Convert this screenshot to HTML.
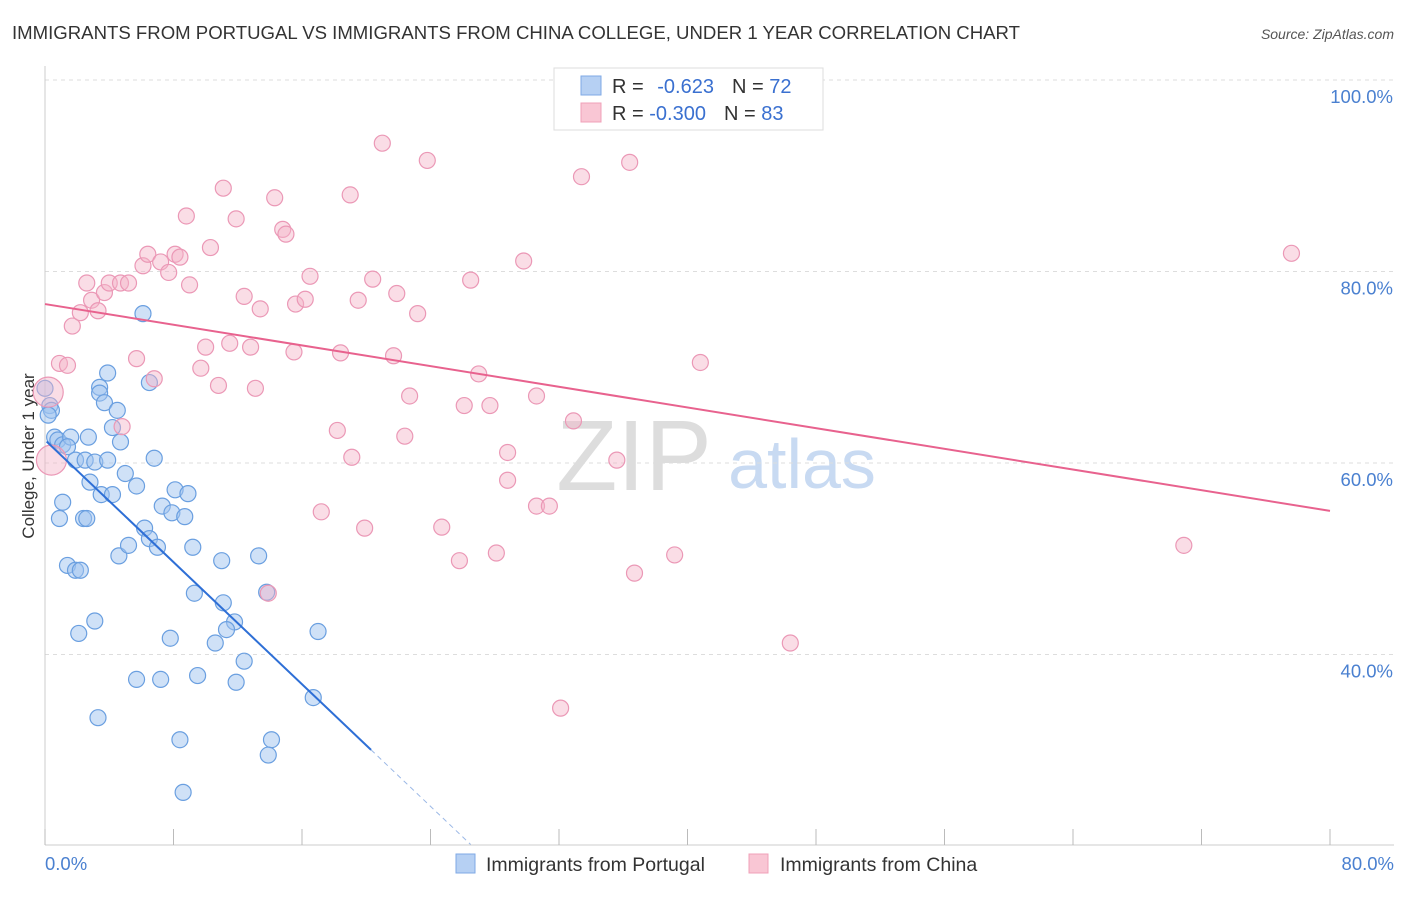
<!DOCTYPE html>
<html><head><meta charset="utf-8"><style>
body{margin:0;background:#fff;font-family:"Liberation Sans",sans-serif;}
svg text{font-family:"Liberation Sans",sans-serif;}
</style></head><body>
<svg id="chart" width="1406" height="892">
<text x="12" y="39" font-size="18" fill="#333" textLength="1008" lengthAdjust="spacingAndGlyphs">IMMIGRANTS FROM PORTUGAL VS IMMIGRANTS FROM CHINA COLLEGE, UNDER 1 YEAR CORRELATION CHART</text>
<text x="1394" y="39" font-size="14" font-style="italic" fill="#555" text-anchor="end">Source: ZipAtlas.com</text>
<text x="634" y="490" font-size="100" font-family="Liberation Serif" fill="#ddd" text-anchor="middle">ZIP</text>
<text x="802" y="488" font-size="70" fill="#c8daf2" text-anchor="middle">atlas</text>
<text transform="translate(34,456) rotate(-90)" font-size="17" fill="#333" text-anchor="middle">College, Under 1 year</text>
<g id="grid"></g><g id="pts"></g><g id="lines"></g>
<g>
<rect x="554" y="68" width="269" height="62" fill="#fff" stroke="#ddd"/>
<rect x="581" y="76" width="20" height="19" fill="#b6d0f3" stroke="#7fa9e6"/>
<rect x="581" y="103" width="20" height="19" fill="#f9c6d4" stroke="#f0a0b8"/>
<text x="612" y="93" font-size="20" fill="#333">R = <tspan fill="#3a70d0" dx="8">-0.623</tspan><tspan fill="#333" dx="18">N = </tspan><tspan fill="#3a70d0">72</tspan></text>
<text x="612" y="120" font-size="20" fill="#333">R = <tspan fill="#3a70d0">-0.300</tspan><tspan fill="#333" dx="18">N = </tspan><tspan fill="#3a70d0">83</tspan></text>
</g>
<g>
<rect x="456" y="854" width="19" height="19" fill="#b6d0f3" stroke="#7fa9e6"/>
<text x="486" y="871" font-size="19.5" fill="#333">Immigrants from Portugal</text>
<rect x="749" y="854" width="19" height="19" fill="#f9c6d4" stroke="#f0a0b8"/>
<text x="780" y="871" font-size="19.5" fill="#333">Immigrants from China</text>
</g>
</svg>
<script>
const yTicks=[100,80,60,40];
const yTickLabels=["100.0%","80.0%","60.0%","40.0%"];
const xTicks=[0,8,16,24,32,40,48,56,64,72,80];
const blueX=[0.0,0.3,0.4,0.2,0.6,0.8,1.1,1.6,2.7,1.4,1.9,2.5,3.1,3.9,3.4,3.9,3.4,3.7,4.5,4.2,4.7,6.5,6.1,2.8,3.5,4.2,5.0,5.7,6.8,1.1,0.9,2.4,2.6,1.4,1.9,2.2,2.1,3.1,3.3,4.6,5.2,6.2,6.5,7.0,7.3,8.1,8.9,7.9,8.7,9.2,11.0,9.3,11.1,11.8,11.3,10.6,7.8,12.4,13.3,13.8,17.0,16.7,5.7,7.2,9.5,11.9,8.4,14.1,13.9,8.6];
const blueY=[67.8,66.0,65.5,65.0,62.7,62.4,61.9,62.7,62.7,61.7,60.3,60.3,60.1,60.3,67.9,69.4,67.3,66.3,65.5,63.7,62.2,68.4,75.6,58.0,56.7,56.7,58.9,57.6,60.5,55.9,54.2,54.2,54.2,49.3,48.8,48.8,42.2,43.5,33.4,50.3,51.4,53.2,52.1,51.2,55.5,57.2,56.8,54.8,54.4,51.2,49.8,46.4,45.4,43.4,42.6,41.2,41.7,39.3,50.3,46.5,42.4,35.5,37.4,37.4,37.8,37.1,31.1,31.1,29.5,25.6];
const pinkX=[0.2,0.4,0.9,1.4,1.7,2.2,2.6,2.9,3.3,3.7,4.0,4.7,5.2,4.8,5.7,6.1,6.4,6.8,7.2,7.7,8.1,8.4,9.0,8.8,9.7,10.0,10.3,10.8,11.1,11.5,11.9,12.8,13.1,12.4,13.4,14.3,14.8,15.0,15.5,15.6,16.2,16.5,18.2,17.2,18.4,19.0,19.1,19.5,19.9,20.4,21.0,21.7,21.9,22.4,22.7,23.2,23.8,24.7,25.8,26.1,26.5,27.0,27.7,28.1,28.8,28.8,29.8,30.6,30.6,31.4,32.1,32.9,33.4,34.2,35.6,36.4,36.7,39.2,40.8,46.4,70.9,77.6,13.9];
const pinkY=[67.4,60.3,70.4,70.2,74.3,75.7,78.8,77.0,75.9,77.8,78.8,78.8,78.8,63.8,70.9,80.6,81.8,68.8,81.0,79.9,81.8,81.5,78.6,85.8,69.9,72.1,82.5,68.1,88.7,72.5,85.5,72.1,67.8,77.4,76.1,87.7,84.4,83.9,71.6,76.6,77.1,79.5,63.4,54.9,71.5,88.0,60.6,77.0,53.2,79.2,93.4,71.2,77.7,62.8,67.0,75.6,91.6,53.3,49.8,66.0,79.1,69.3,66.0,50.6,61.1,58.2,81.1,55.5,67.0,55.5,34.4,64.4,89.9,98.1,60.3,91.4,48.5,50.4,70.5,41.2,51.4,81.9,46.4];
const pinkBig=[0,1];
const blueFit=[62.4,-1.594];
const pinkFit=[76.6,-0.27];
const blueSolidEnd=20.3, blueDashEnd=26.5;

const NS="http://www.w3.org/2000/svg";
const X=v=>45+v*(1285/80);
const Y=v=>80+(100-v)*9.575;
function mk(tag,attrs,parent){const e=document.createElementNS(NS,tag);for(const k in attrs)e.setAttribute(k,attrs[k]);parent.appendChild(e);return e;}
const grid=document.getElementById('grid'),pts=document.getElementById('pts'),lines=document.getElementById('lines');
yTicks.forEach((t,i)=>{
  const l=mk('line',{x1:45,x2:1394,y1:Y(t),y2:Y(t),stroke:'#ddd','stroke-dasharray':'4,4'},grid);
  
  
  const tx=mk('text',{x:1393,y:Y(t)+23,'font-size':18.5,fill:'#4a80d0','text-anchor':'end'},grid);
  tx.textContent=yTickLabels[i];
  
  
});
const ax=mk('line',{x1:45,x2:1394,y1:845,y2:845,stroke:'#ccc'},grid);


const ay=mk('line',{x1:45,x2:45,y1:66,y2:845,stroke:'#ccc'},grid);


xTicks.forEach(t=>{
  const l=mk('line',{x1:X(t),x2:X(t),y1:829,y2:845,stroke:'#bbb'},grid);
  
  
});
const xl0=mk('text',{x:45,y:870,'font-size':18.5,fill:'#4a80d0'},grid);xl0.textContent='0.0%';


const xl1=mk('text',{x:1394,y:870,'font-size':18.5,fill:'#4a80d0','text-anchor':'end'},grid);xl1.textContent='80.0%';


blueX.forEach((v,i)=>{
  const c=mk('circle',{cx:X(v),cy:Y(blueY[i]),r:8,fill:'rgba(160,196,240,0.5)',stroke:'#6a9fe0','stroke-width':1.2},pts);
  
  
});
pinkX.forEach((v,i)=>{
  const big=pinkBig.includes(i);
  const c=mk('circle',{cx:X(v),cy:Y(pinkY[i]),r:big?15:8,fill:'rgba(245,180,200,0.45)',stroke:'#eb98b6','stroke-width':1.2},pts);
  
  
});
const bf=x=>blueFit[0]+blueFit[1]*x, pf=x=>pinkFit[0]+pinkFit[1]*x;
const b1=mk('line',{x1:X(0.1),y1:Y(bf(0.1)),x2:X(blueSolidEnd),y2:Y(bf(blueSolidEnd)),stroke:'#2e6fd6','stroke-width':2},lines);


const b2=mk('line',{x1:X(blueSolidEnd),y1:Y(bf(blueSolidEnd)),x2:X(blueDashEnd),y2:Y(bf(blueDashEnd)),stroke:'#9bb8e6','stroke-width':1,'stroke-dasharray':'5,4'},lines);


const p1=mk('line',{x1:X(0),y1:Y(pf(0)),x2:X(80),y2:Y(pf(80)),stroke:'#e8628e','stroke-width':2},lines);


</script>
</body></html>
